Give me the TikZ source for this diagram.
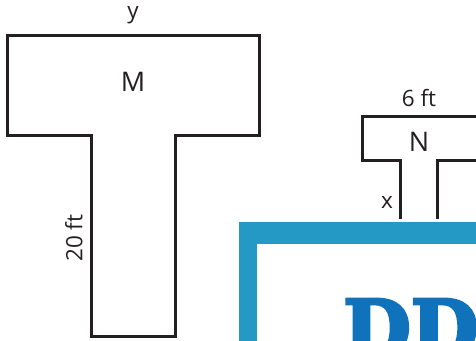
\documentclass[tikz,border=0pt]{standalone}
\usepackage{fontspec}
\setmainfont{Open Sans}
\newfontfamily\slabfont[FakeBold=4]{DejaVu Serif Bold}
\definecolor{inkdark}{HTML}{231F20}
\definecolor{framecyan}{HTML}{2499C6}
\definecolor{letterblue}{HTML}{0F72BA}
\tikzset{
  outline/.style={draw=inkdark,line width=2.4pt,miter limit=10},
  lab/.style={text=inkdark,inner sep=0pt,font=\fontsize{22.5}{24}\selectfont},
  biglab/.style={text=inkdark,inner sep=0pt,font=\fontsize{27}{29}\selectfont},
}
\begin{document}
\begin{tikzpicture}[x=1pt,y=-1pt]
\useasboundingbox (0,0) rectangle (476,340);
\clip (0,0) rectangle (476,340);
% shape M
\draw[outline] (7.5,35.5) -- (259.5,35.5) -- (259.5,135.5) -- (175.5,135.5) -- (175.5,336.5) -- (91.5,336.5) -- (91.5,135.5) -- (7.5,135.5) -- cycle;
\node[biglab] (mlabel) at (133,81.5) {M};
\node[lab] (ylabel) at (133,15) {y};
\node[lab,rotate=90] (twenty) at (74,238) {20 ft};
% shape N
\draw[outline] (400.5,218.5) -- (400.5,160.5) -- (362.5,160.5) -- (362.5,116.5) -- (478,116.5);
\draw[outline] (437.5,218.5) -- (437.5,160.5) -- (478,160.5);
\node[biglab] (nlabel) at (419,142) {N};
\node[lab] (six) at (419,98) {6 ft};
\node[lab] (xlabel) at (387,202) {x};
% frame
\fill[framecyan] (238.5,222) rectangle (480,344);
\fill[white] (256.5,244) rectangle (480,344);
% letters
\node[anchor=base west,inner sep=0pt,text=letterblue,font=\slabfont\fontsize{78}{78}\selectfont] (dd) at (343,356) {DD};
\end{tikzpicture}
\end{document}
